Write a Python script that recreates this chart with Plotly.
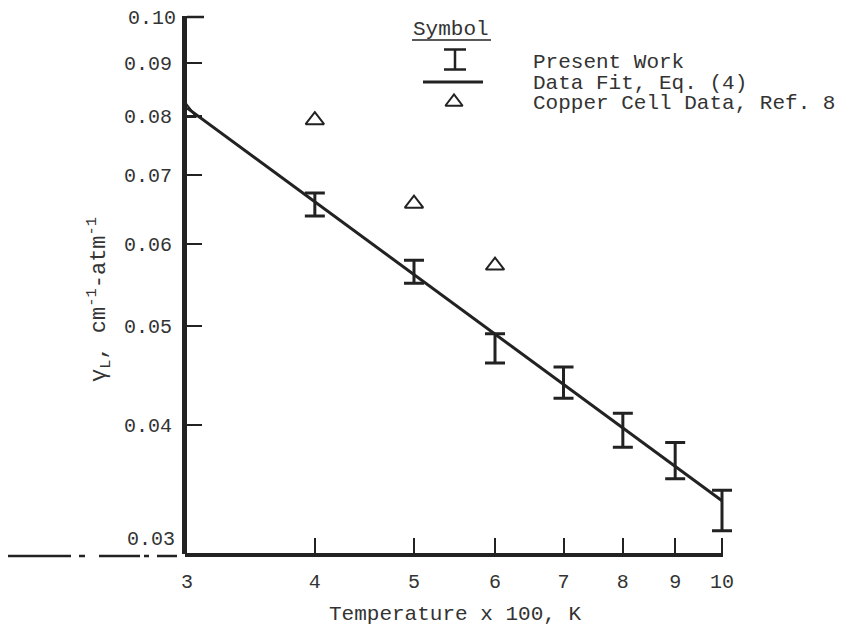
import plotly.graph_objects as go

# ---- data ----
temp_present = [4, 5, 6, 7, 8, 9, 10]          # Temperature x 100, K
gamma_mid = [0.0656, 0.0564, 0.0475, 0.0440, 0.0396, 0.0370, 0.0331]
gamma_hi = [0.0673, 0.0579, 0.0491, 0.0456, 0.0411, 0.0385, 0.0346]
gamma_lo = [0.0639, 0.0550, 0.0460, 0.0425, 0.0381, 0.0355, 0.0316]

fit_temp = [3, 10]
fit_gamma = [0.0814, 0.0338]

copper_temp = [3, 4, 5, 6]
copper_gamma = [0.0805, 0.0792, 0.0657, 0.0572]

x_ticks = [3, 4, 5, 6, 7, 8, 9, 10]
x_ticktext = ["3", "4", "5", "6", "7", "8", "9", "10"]
y_ticks = [0.04, 0.05, 0.06, 0.07, 0.08, 0.09, 0.10]
y_ticktext = ["0.04", "0.05", "0.06", "0.07", "0.08", "0.09", "0.10"]

legend_labels = ["Present Work", "Data Fit, Eq. (4)", "Copper Cell Data, Ref. 8"]

# ---- styling ----
FONT = "Liberation Mono, DejaVu Sans Mono, monospace"
INK = "#222222"
TXT = "#333333"
FS = 20
FL = 21
OFF = 8                      # default page body margin
W, H = 849 - OFF, 627 - OFF
# plot area in page pixels
X0, X1, Y0, Y1 = 187, 735, 16, 554
AXIS_END = 722               # where x = 10 falls
L, R, T, B = X0 - OFF, (W + OFF) - X1, Y0 - OFF, (H + OFF) - Y1
PW, PH = X1 - X0, Y1 - Y0
DEC = (AXIS_END - X0) / (1.0 - 0.47712)      # pixels per decade on x

def px(x):
    return (x - X0) / PW

def py(y):
    return (Y1 - y) / PH

fig = go.Figure()

# data fit line
fig.add_trace(go.Scatter(x=fit_temp, y=fit_gamma, mode="lines",
                         line=dict(color=INK, width=3), showlegend=False,
                         hoverinfo="skip"))

# present work error bars
err_plus = [h - m for h, m in zip(gamma_hi, gamma_mid)]
err_minus = [m - l for m, l in zip(gamma_mid, gamma_lo)]
fig.add_trace(go.Scatter(x=temp_present, y=gamma_mid, mode="markers",
                         marker=dict(size=2, color="rgba(0,0,0,0)"),
                         error_y=dict(type="data", symmetric=False,
                                      array=err_plus, arrayminus=err_minus,
                                      color=INK, thickness=3, width=10),
                         showlegend=False))

# copper cell triangles
fig.add_trace(go.Scatter(x=copper_temp, y=copper_gamma, mode="markers",
                         marker=dict(symbol="triangle-up-open", size=16,
                                     color=INK, line=dict(width=2, color=INK)),
                         showlegend=False, cliponaxis=True))

# ---- legend (drawn on an overlay pixel axis) ----
fig.add_trace(go.Scatter(x=[455], y=[59.5], mode="markers", xaxis="x2", yaxis="y2",
                         marker=dict(size=2, color="rgba(0,0,0,0)"),
                         error_y=dict(type="constant", value=10, color=INK,
                                      thickness=2.5, width=11),
                         showlegend=False, hoverinfo="skip"))
fig.add_trace(go.Scatter(x=[423, 483], y=[82, 82], mode="lines", xaxis="x2", yaxis="y2",
                         line=dict(color=INK, width=3), showlegend=False,
                         hoverinfo="skip"))
fig.add_trace(go.Scatter(x=[454], y=[102], mode="markers", xaxis="x2", yaxis="y2",
                         marker=dict(symbol="triangle-up-open", size=15, color=INK,
                                     line=dict(width=2, color=INK)),
                         showlegend=False, hoverinfo="skip"))

annotations = [
    dict(text="Symbol", x=px(451), y=py(29), xref="paper", yref="paper",
         showarrow=False, font=dict(family=FONT, size=FL, color=TXT),
         xanchor="center", yanchor="middle"),
]
for i, lab in enumerate(legend_labels):
    annotations.append(dict(text=lab, x=px(532), y=py(62 + 21 * i),
                            xref="paper", yref="paper", showarrow=False,
                            font=dict(family=FONT, size=FL, color=TXT),
                            xanchor="left", yanchor="middle", borderpad=0))

# y title, x title and bottom 0.03 label
annotations.append(dict(text="γ<sub>L</sub>, cm<sup>-1</sup>-atm<sup>-1</sup>",
                        x=px(99), y=py(300), xref="paper", yref="paper",
                        textangle=-90, showarrow=False,
                        font=dict(family=FONT, size=22, color=TXT),
                        xanchor="center", yanchor="middle"))
annotations.append(dict(text="Temperature x 100, K",
                        x=px(455), y=py(614), xref="paper", yref="paper",
                        showarrow=False, font=dict(family=FONT, size=FL, color=TXT),
                        xanchor="center", yanchor="middle"))
annotations.append(dict(text="0.03", x=px(177), y=py(539), xref="paper", yref="paper",
                        showarrow=False, font=dict(family=FONT, size=FS, color=TXT),
                        xanchor="right", yanchor="middle"))
# top tick label (drawn as annotation so it is never dropped at the edge)
annotations.append(dict(text="0.10", x=px(177), y=py(18), xref="paper", yref="paper",
                        showarrow=False, font=dict(family=FONT, size=FS, color=TXT),
                        xanchor="right", yanchor="middle", borderpad=0))

shapes = [
    # x axis line (ends at x = 10)
    dict(type="line", xref="paper", yref="paper", x0=px(X0 - 2), x1=px(AXIS_END + 1),
         y0=py(Y1 + 1), y1=py(Y1 + 1), line=dict(color=INK, width=4)),
    # top tick at 0.10
    dict(type="line", xref="paper", yref="paper", x0=px(X0), x1=px(X0 + 17),
         y0=py(Y0 + 1), y1=py(Y0 + 1), line=dict(color=INK, width=2.5)),
    # underline under "Symbol"
    dict(type="line", xref="paper", yref="paper", x0=px(412), x1=px(491),
         y0=py(40), y1=py(40), line=dict(color=INK, width=1.5)),
    # dash-dot extension of the x axis to the left
    dict(type="line", xref="paper", yref="paper", x0=px(7), x1=px(184),
         y0=py(556), y1=py(556),
         line=dict(color=INK, width=2.5,
                   dash="64px,8px,6px,14px,41px,4px,5px,8px,20px,10px")),
]

fig.update_layout(
    width=W, height=H,
    margin=dict(l=L, r=R, t=T, b=B, autoexpand=False),
    paper_bgcolor="white", plot_bgcolor="white",
    showlegend=False,
    font=dict(family=FONT, size=FS, color=TXT),
    xaxis=dict(type="log", range=[0.47712, 0.47712 + PW / DEC], tickvals=x_ticks,
               ticktext=x_ticktext, ticks="inside", ticklen=16, tickwidth=2,
               tickcolor=INK, showline=False, showgrid=False, zeroline=False,
               ticklabelstandoff=13, automargin=False),
    yaxis=dict(type="log", range=[-1.52288, -1.0], tickvals=y_ticks[:-1],
               ticktext=y_ticktext[:-1], ticks="inside", ticklen=15, tickwidth=2,
               tickcolor=INK, showline=True, linewidth=5, linecolor=INK,
               showgrid=False, zeroline=False, ticklabelstandoff=6,
               automargin=False),
    xaxis2=dict(overlaying="x", range=[X0, X1], visible=False, fixedrange=True),
    yaxis2=dict(overlaying="y", range=[Y1, Y0], visible=False, fixedrange=True),
    annotations=annotations,
    shapes=shapes,
)

fig.write_html("out.html")
